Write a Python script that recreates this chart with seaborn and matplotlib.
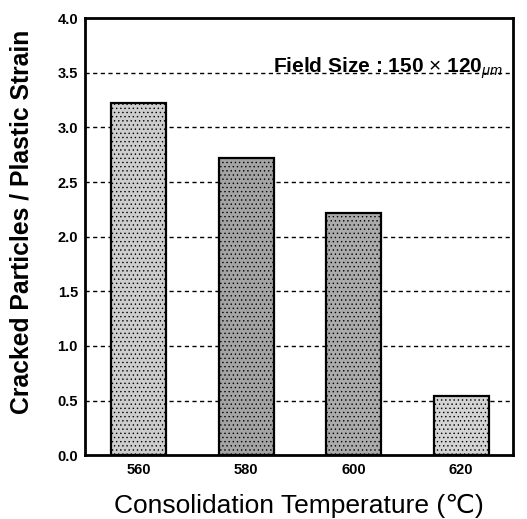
import matplotlib
matplotlib.use("Agg")
import matplotlib.pyplot as plt
import seaborn as sns
import pandas as pd

# Cracked particle ratio per consolidation temperature
temperatures = ["560", "580", "600", "620"]
cracked_ratio = [3.22, 2.72, 2.22, 0.54]
bar_colors = ["#cdcdcd", "#a4a4a4", "#ababab", "#d4d4d4"]
y_ticks = [0.0, 0.5, 1.0, 1.5, 2.0, 2.5, 3.0, 3.5, 4.0]

sns.set_theme(style="white")
plt.rcParams["font.family"] = ["Liberation Sans", "DejaVu Sans"]
plt.rcParams["text.color"] = "black"
plt.rcParams["axes.labelcolor"] = "black"
plt.rcParams["xtick.color"] = "black"
plt.rcParams["ytick.color"] = "black"
plt.rcParams["mathtext.fontset"] = "custom"
plt.rcParams["mathtext.rm"] = "Liberation Sans"
plt.rcParams["mathtext.it"] = "Liberation Sans:italic"
plt.rcParams["mathtext.bf"] = "Liberation Sans:bold"
plt.rcParams["hatch.color"] = "#707070"
plt.rcParams["hatch.linewidth"] = 0.5

df = pd.DataFrame({"Temperature": temperatures, "Ratio": cracked_ratio})

fig = plt.figure(figsize=(5.27, 5.19), dpi=100)
ax = fig.add_axes([0.161, 0.123, 0.812, 0.842])

# dashed reference lines behind the bars
for t in y_ticks[1:-1]:
    ax.axhline(t, color="black", linestyle=(0, (3, 2.5)), linewidth=1.0, zorder=0)

sns.barplot(data=df, x="Temperature", y="Ratio", hue="Temperature",
            palette=bar_colors, legend=False, width=0.51,
            edgecolor="black", linewidth=1.6, ax=ax, zorder=2)
for patch in ax.patches:
    patch.set_hatch("....")
    patch.set_zorder(2)

ax.set_ylim(0, 4.0)
ax.set_xlim(-0.5, 3.48)
ax.set_yticks(y_ticks)
ax.set_yticklabels([f"{t:.1f}" for t in y_ticks], fontsize=10.5, fontweight="bold")
ax.set_xticks(range(len(temperatures)))
ax.set_xticklabels(temperatures, fontsize=10.5, fontweight="bold")
ax.tick_params(axis="y", length=0, pad=5)
ax.tick_params(axis="x", length=0, pad=6)

for side in ["left", "right", "top", "bottom"]:
    ax.spines[side].set_visible(True)
    ax.spines[side].set_color("black")
    ax.spines[side].set_linewidth(2.0)

ax.set_ylabel("Cracked Particles / Plastic Strain", fontsize=17.8,
              fontweight="bold")
ax.yaxis.set_label_coords(-0.12, 0.533)
ax.set_xlabel("Consolidation Temperature (℃)", fontsize=19, labelpad=12)

ax.text(0.978, 0.885, r"Field Size : 150 $\times$ 120$_{\mu m}$",
        transform=ax.transAxes, ha="right", va="center",
        fontsize=15, fontweight="bold")

fig.savefig("out.png", dpi=100)
